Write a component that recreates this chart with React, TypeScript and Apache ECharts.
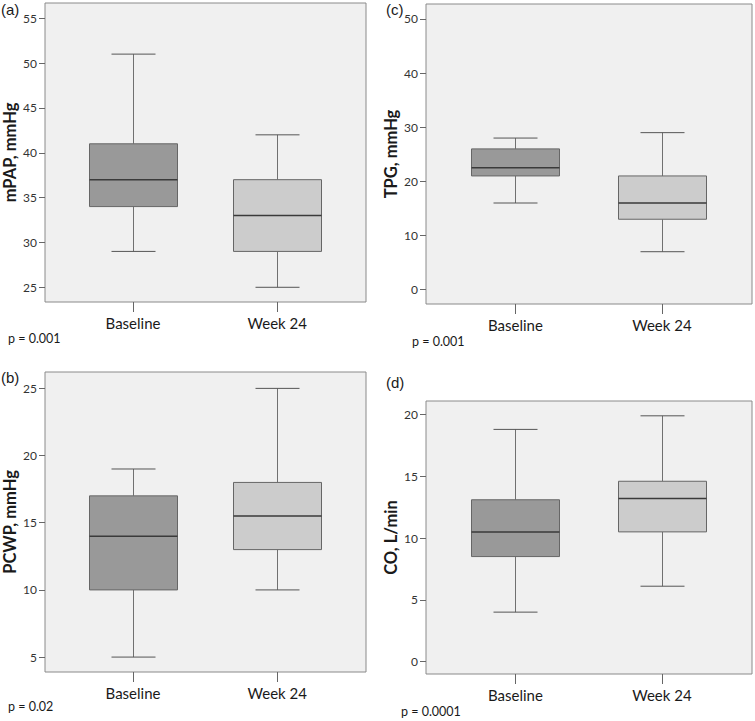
import React, { useEffect, useRef } from "react";
import * as echarts from "echarts";

const categories = ["Baseline", "Week 24"];

// (a) mPAP
const mpapMin = [29, 25];
const mpapQ1 = [34, 29];
const mpapMedian = [37, 33];
const mpapQ3 = [41, 37];
const mpapMax = [51, 42];
const mpapTicks = [25, 30, 35, 40, 45, 50, 55];

// (c) TPG
const tpgMin = [16, 7];
const tpgQ1 = [21, 13];
const tpgMedian = [22.5, 16];
const tpgQ3 = [26, 21];
const tpgMax = [28, 29];
const tpgTicks = [0, 10, 20, 30, 40, 50];

// (b) PCWP
const pcwpMin = [5, 10];
const pcwpQ1 = [10, 13];
const pcwpMedian = [14, 15.5];
const pcwpQ3 = [17, 18];
const pcwpMax = [19, 25];
const pcwpTicks = [5, 10, 15, 20, 25];

// (d) CO
const coMin = [4, 6.1];
const coQ1 = [8.5, 10.5];
const coMedian = [10.5, 13.2];
const coQ3 = [13.1, 14.6];
const coMax = [18.8, 19.9];
const coTicks = [0, 5, 10, 15, 20];

const panelNames = ["mPAP, mmHg", "TPG, mmHg", "PCWP, mmHg", "CO, L/min"];
const panelLetters = ["(a)", "(c)", "(b)", "(d)"];
const pValues = ["p = 0.001", "p = 0.001", "p = 0.02", "p = 0.0001"];

const boxFills = ["#999999", "#cccccc"];

const panels = [
  { min: mpapMin, q1: mpapQ1, med: mpapMedian, q3: mpapQ3, max: mpapMax, ticks: mpapTicks, yMin: 23.36, yMax: 56.7, grid: { left: 40, top: 3, width: 326, height: 299 } },
  { min: tpgMin, q1: tpgQ1, med: tpgMedian, q3: tpgQ3, max: tpgMax, ticks: tpgTicks, yMin: -2.66, yMax: 52.77, grid: { left: 426, top: 4, width: 326, height: 300 } },
  { min: pcwpMin, q1: pcwpQ1, med: pcwpMedian, q3: pcwpQ3, max: pcwpMax, ticks: pcwpTicks, yMin: 3.89, yMax: 26.22, grid: { left: 40, top: 372, width: 326, height: 300 } },
  { min: coMin, q1: coQ1, med: coMedian, q3: coQ3, max: coMax, ticks: coTicks, yMin: -1.01, yMax: 21.1, grid: { left: 426, top: 401, width: 326, height: 273 } },
];

const letterPos = [
  [1, 2],
  [386, 2],
  [1, 370],
  [386, 375],
];
const pPos = [
  [8, 338],
  [412, 341],
  [8, 706],
  [401, 711],
];

const renderBox = (params: any, api: any) => {
  const x = api.value(0);
  const lo = api.value(1);
  const q1 = api.value(2);
  const med = api.value(3);
  const q3 = api.value(4);
  const hi = api.value(5);
  const pLo = api.coord([x, lo]);
  const pQ1 = api.coord([x, q1]);
  const pMed = api.coord([x, med]);
  const pQ3 = api.coord([x, q3]);
  const pHi = api.coord([x, hi]);
  const cx = Math.round(pMed[0]) + 0.5;
  const bw = 88;
  const cw = 44;
  const fill = boxFills[params.dataIndex % boxFills.length];
  const whisker = { stroke: "#707070", lineWidth: 1 };
  const cap = { stroke: "#555555", lineWidth: 1 };
  return {
    type: "group",
    children: [
      { type: "line", shape: { x1: cx, y1: pQ3[1], x2: cx, y2: pHi[1] }, style: whisker },
      { type: "line", shape: { x1: cx, y1: pQ1[1], x2: cx, y2: pLo[1] }, style: whisker },
      { type: "line", shape: { x1: cx - cw / 2, y1: pHi[1], x2: cx + cw / 2, y2: pHi[1] }, style: cap },
      { type: "line", shape: { x1: cx - cw / 2, y1: pLo[1], x2: cx + cw / 2, y2: pLo[1] }, style: cap },
      {
        type: "rect",
        shape: { x: cx - bw / 2, y: pQ3[1], width: bw, height: pQ1[1] - pQ3[1] },
        style: { fill, stroke: "#666666", lineWidth: 1 },
      },
      {
        type: "line",
        shape: { x1: cx - bw / 2, y1: pMed[1], x2: cx + bw / 2, y2: pMed[1] },
        style: { stroke: "#3a3a3a", lineWidth: 1.5 },
      },
    ],
  };
};

export default function App() {
  const ref = useRef<HTMLDivElement>(null);

  useEffect(() => {
    if (!ref.current) return;
    const chart = echarts.init(ref.current, undefined, { renderer: "svg" });

    const grids = panels.map((p) => ({
      ...p.grid,
      show: true,
      backgroundColor: "#f0f0f0",
      borderColor: "#8a8a8a",
      borderWidth: 1,
      containLabel: false,
    }));

    const xAxes = panels.map((p, i) => ({
      type: "value",
      gridIndex: i,
      position: "bottom",
      min: 0.39,
      max: 2.615,
      splitLine: { show: false },
      axisLine: { show: false, onZero: false },
      axisTick: { show: true, length: 10, customValues: [1, 2], lineStyle: { color: "#666666" } },
      axisLabel: {
        show: true,
        customValues: [1, 2],
        formatter: (v: number) => categories[Math.round(v) - 1] ?? "",
        fontFamily: "Lato",
        fontSize: 15,
        color: "#1a1a1a",
        margin: 13,
      },
    }));

    const yAxes = panels.map((p, i) => ({
      type: "value",
      gridIndex: i,
      position: "left",
      min: p.yMin,
      max: p.yMax,
      name: panelNames[i],
      nameLocation: "middle",
      nameRotate: 90,
      nameGap: 27,
      nameTextStyle: { fontFamily: "Lato", fontWeight: "bold", fontSize: 16.5, color: "#1a1a1a" },
      splitLine: { show: false },
      axisLine: { show: false, onZero: false },
      axisTick: { show: true, length: 6, customValues: p.ticks, lineStyle: { color: "#666666" } },
      axisLabel: {
        show: true,
        customValues: p.ticks,
        fontFamily: "Lato",
        fontSize: 12,
        color: "#333333",
        margin: 8,
      },
    }));

    const series = panels.map((p, i) => ({
      type: "custom",
      xAxisIndex: i,
      yAxisIndex: i,
      silent: true,
      renderItem: renderBox,
      encode: { x: 0, y: [1, 2, 3, 4, 5] },
      data: categories.map((_, k) => [k + 1, p.min[k], p.q1[k], p.med[k], p.q3[k], p.max[k]]),
    }));

    const graphics: any[] = [];
    panelLetters.forEach((t, i) => {
      graphics.push({
        type: "text",
        left: letterPos[i][0],
        top: letterPos[i][1],
        style: { text: t, fontFamily: "Liberation Sans", fontSize: 15, fill: "#1a1a1a" },
      });
    });
    pValues.forEach((t, i) => {
      graphics.push({
        type: "text",
        x: pPos[i][0],
        y: pPos[i][1],
        style: { text: t, fontFamily: "Lato", fontSize: 12.5, fill: "#1a1a1a", verticalAlign: "middle" },
      });
    });

    chart.setOption({
      animation: false,
      backgroundColor: "#ffffff",
      grid: grids,
      xAxis: xAxes,
      yAxis: yAxes,
      series,
      graphic: graphics,
    } as any);

    return () => chart.dispose();
  }, []);

  return (
    <div
      ref={ref}
      style={{ position: "absolute", left: 0, top: 0, width: 755, height: 721 }}
    />
  );
}
